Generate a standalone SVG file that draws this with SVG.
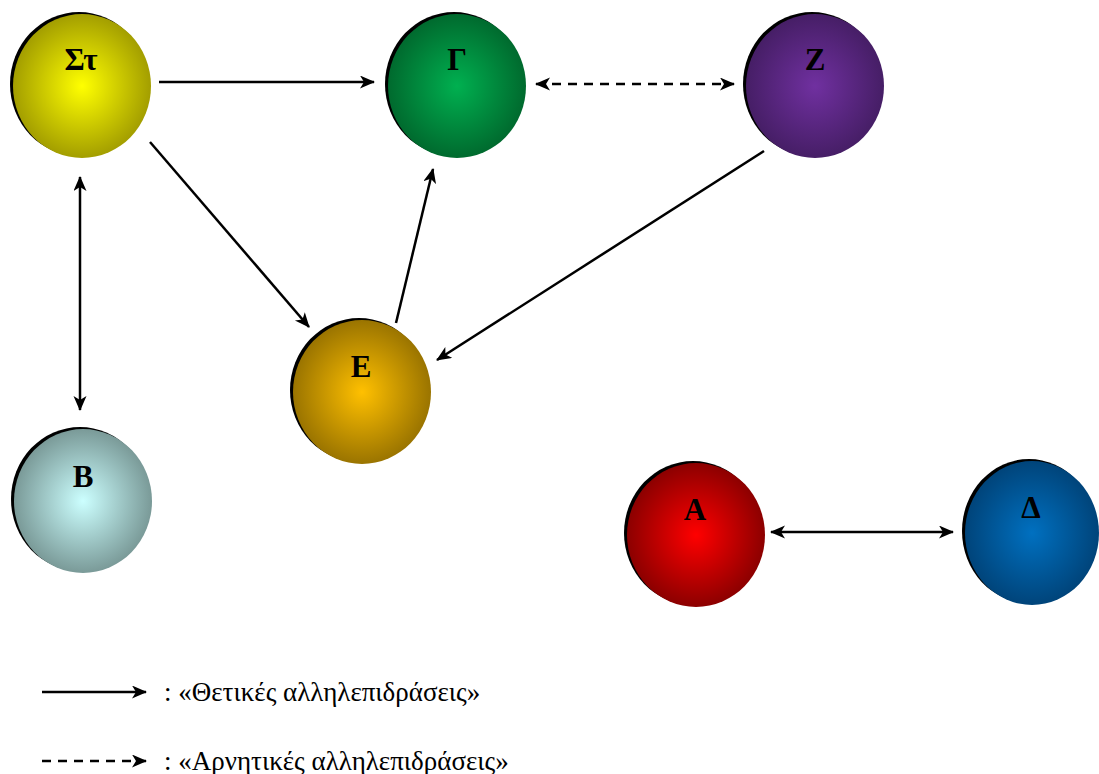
<svg xmlns="http://www.w3.org/2000/svg" width="1099" height="774" viewBox="0 0 1099 774">
  <style>
    .shadow { fill: #000; }
    .lbl { font-family: "Liberation Serif", "DejaVu Serif", "Times New Roman", serif; font-weight: bold; font-size: 31px; fill: #000; text-anchor: middle; }
    .link { stroke: #000; stroke-width: 2.5; fill: none; }
    .dash { stroke-dasharray: 9 7; }
    .legend { font-family: "Liberation Serif", "DejaVu Serif", "Times New Roman", serif; font-size: 27px; fill: #000; }
  </style>
  <defs>
    <marker id="head" markerUnits="userSpaceOnUse" markerWidth="16" markerHeight="14" refX="14" refY="6.5" orient="auto-start-reverse">
      <path d="M0,0 L15,6.5 L0,13 L4,6.5 z" fill="#000"/>
    </marker>
    <radialGradient id="gYellow" cx="0.5" cy="0.5" r="0.5">
      <stop offset="0" stop-color="#ffff00"/>
      <stop offset="1" stop-color="#a39e00"/>
    </radialGradient>
    <radialGradient id="gGreen" cx="0.5" cy="0.5" r="0.5">
      <stop offset="0" stop-color="#00b050"/>
      <stop offset="1" stop-color="#006a2e"/>
    </radialGradient>
    <radialGradient id="gPurple" cx="0.5" cy="0.5" r="0.5">
      <stop offset="0" stop-color="#7030a0"/>
      <stop offset="1" stop-color="#461e66"/>
    </radialGradient>
    <radialGradient id="gGold" cx="0.5" cy="0.5" r="0.5">
      <stop offset="0" stop-color="#ffc000"/>
      <stop offset="1" stop-color="#9a7400"/>
    </radialGradient>
    <radialGradient id="gCyan" cx="0.5" cy="0.5" r="0.5">
      <stop offset="0" stop-color="#ccffff"/>
      <stop offset="1" stop-color="#7a9a98"/>
    </radialGradient>
    <radialGradient id="gRed" cx="0.5" cy="0.5" r="0.5">
      <stop offset="0" stop-color="#ff0000"/>
      <stop offset="1" stop-color="#8c0000"/>
    </radialGradient>
    <radialGradient id="gBlue" cx="0.5" cy="0.5" r="0.5">
      <stop offset="0" stop-color="#0070c0"/>
      <stop offset="1" stop-color="#00447a"/>
    </radialGradient>
  </defs>

  <rect width="1099" height="774" fill="#fff"/>

  <!-- species nodes: dark offset disc behind a shaded sphere -->
  <g id="node-St">
    <ellipse class="shadow" cx="79" cy="84" rx="69" ry="72"/>
    <ellipse cx="82" cy="86" rx="69" ry="72" fill="url(#gYellow)"/>
    <text class="lbl" x="81" y="70">Στ</text>
  </g>
  <g id="node-G">
    <ellipse class="shadow" cx="454" cy="84" rx="69" ry="72"/>
    <ellipse cx="457" cy="86" rx="69" ry="72" fill="url(#gGreen)"/>
    <text class="lbl" x="457" y="70">Γ</text>
  </g>
  <g id="node-Z">
    <ellipse class="shadow" cx="812" cy="84" rx="69" ry="72"/>
    <ellipse cx="815" cy="86" rx="69" ry="72" fill="url(#gPurple)"/>
    <text class="lbl" x="815" y="70">Z</text>
  </g>
  <g id="node-E">
    <ellipse class="shadow" cx="359" cy="390" rx="69" ry="72"/>
    <ellipse cx="362" cy="392" rx="69" ry="72" fill="url(#gGold)"/>
    <text class="lbl" x="361" y="377">E</text>
  </g>
  <g id="node-B">
    <ellipse class="shadow" cx="80" cy="499" rx="69" ry="72"/>
    <ellipse cx="83" cy="501" rx="69" ry="72" fill="url(#gCyan)"/>
    <text class="lbl" x="83" y="487">B</text>
  </g>
  <g id="node-A">
    <ellipse class="shadow" cx="693" cy="533" rx="69" ry="72"/>
    <ellipse cx="696" cy="535" rx="69" ry="72" fill="url(#gRed)"/>
    <text class="lbl" x="695" y="520">A</text>
  </g>
  <g id="node-D">
    <ellipse class="shadow" cx="1029" cy="531" rx="67" ry="72"/>
    <ellipse cx="1032" cy="533" rx="67" ry="72" fill="url(#gBlue)"/>
    <text class="lbl" x="1031" y="518">Δ</text>
  </g>

  <!-- interactions -->
  <g id="connectors">
    <line class="link" x1="159" y1="82" x2="374" y2="82" marker-end="url(#head)"/>
    <line class="link dash" x1="536" y1="84" x2="734" y2="84" marker-start="url(#head)" marker-end="url(#head)"/>
    <line class="link" x1="150" y1="142" x2="309" y2="327" marker-end="url(#head)"/>
    <line class="link" x1="396" y1="323" x2="433" y2="169" marker-end="url(#head)"/>
    <line class="link" x1="764" y1="151" x2="437" y2="360" marker-end="url(#head)"/>
    <line class="link" x1="80" y1="177" x2="80" y2="410" marker-start="url(#head)" marker-end="url(#head)"/>
    <line class="link" x1="771" y1="532" x2="953" y2="532" marker-start="url(#head)" marker-end="url(#head)"/>
  </g>

  <!-- key -->
  <g id="legend">
    <line class="link" x1="42" y1="692" x2="146" y2="692" marker-end="url(#head)"/>
    <text class="legend" x="164" y="701">: «Θετικές αλληλεπιδράσεις»</text>
    <line class="link dash" x1="42" y1="761" x2="146" y2="761" marker-end="url(#head)"/>
    <text class="legend" x="164" y="770">: «Αρνητικές αλληλεπιδράσεις»</text>
  </g>
</svg>
